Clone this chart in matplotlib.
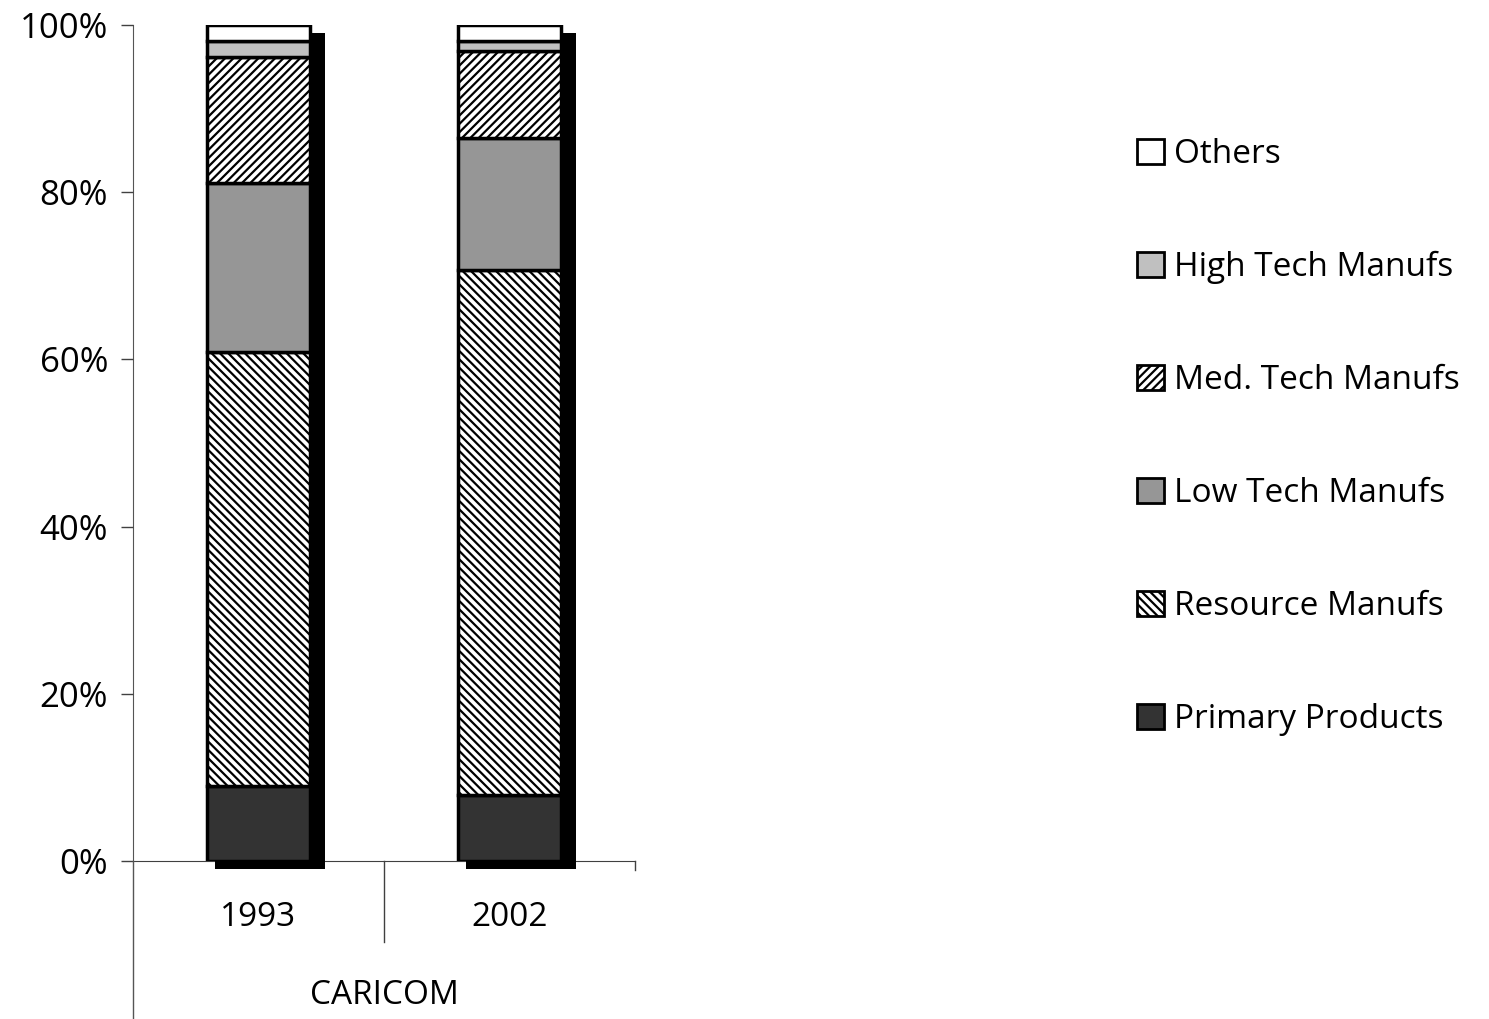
import matplotlib.pyplot as plt
from matplotlib.patches import Rectangle
from matplotlib.lines import Line2D
import matplotlib.transforms as mtransforms

plt.rcParams['font.family'] = ['Open Sans', 'DejaVu Sans']
plt.rcParams['hatch.linewidth'] = 1.6

# datos (% del total)
years = ["1993", "2002"]
group = "CARICOM"
categories = ["Primary Products", "Resource Manufs", "Low Tech Manufs",
              "Med. Tech Manufs", "High Tech Manufs", "Others"]
primary = [9.0, 7.9]
resource = [51.9, 62.8]
low_tech = [20.2, 15.8]
med_tech = [15.1, 10.4]
high_tech = [1.9, 1.2]
others = [1.9, 1.9]
series = [primary, resource, low_tech, med_tech, high_tech, others]

colors = ["#333333", "white", "#969696", "white", "#c0c0c0", "white"]
hatches = [None, "\\\\\\\\", None, "////", None, None]

fig = plt.figure(figsize=(14.89, 10.19), dpi=100)
ax = fig.add_axes([133 / 1489, 158 / 1019, 502 / 1489, 836 / 1019])

x = [0.5, 1.5]
width = 0.41
px = 2.0 / 502  # un pixel en unidades x

# sombra negra (efecto 3D)
for xi in x:
    ax.add_patch(Rectangle((xi - width / 2 + 8 * px, -0.9), width + 7 * px, 100,
                           facecolor="black", edgecolor="none", zorder=2,
                           clip_on=False))

bottom = [0.0, 0.0]
handles = []
for vals, name, c, h in zip(series, categories, colors, hatches):
    bars = ax.bar(x, vals, width, bottom=bottom, color=c, hatch=h,
                  edgecolor="black", linewidth=2.5, zorder=3, label=name)
    handles.append(bars)
    bottom = [b + v for b, v in zip(bottom, vals)]

ax.set_xlim(0, 2)
ax.set_ylim(0, 100)
ax.set_yticks([0, 20, 40, 60, 80, 100])
ax.set_yticklabels(["0%", "20%", "40%", "60%", "80%", "100%"], fontsize=25)
ax.tick_params(axis="y", direction="out", length=9, width=1, pad=9, color="#404040")
ax.set_xticks(x)
ax.set_xticklabels(years, fontsize=24)
ax.tick_params(axis="x", length=0, pad=29)

for s in ["top", "right"]:
    ax.spines[s].set_visible(False)
ax.spines["left"].set_color("#555555")
ax.spines["bottom"].set_color("#404040")
ax.spines["left"].set_zorder(1)
ax.spines["bottom"].set_zorder(1)

# separadores del eje de categorias
trans = mtransforms.blended_transform_factory(ax.transData, fig.transFigure)
y0 = 158 / 1019
ax.add_line(Line2D([1.0, 1.0], [y0, y0 - 81 / 1019], transform=trans,
                   color="#404040", lw=1, clip_on=False))
ax.add_line(Line2D([2.0, 2.0], [y0, y0 - 9 / 1019], transform=trans,
                   color="#404040", lw=1, clip_on=False))
ax.add_line(Line2D([0.0, 0.0], [y0, 0], transform=trans,
                   color="#555555", lw=1, clip_on=False))

fig.text((133 + 502 / 2) / 1489, 1 - 995 / 1019, group, fontsize=24,
         ha="center", va="center")

leg = fig.legend(handles[::-1], categories[::-1], loc="center left",
                 bbox_to_anchor=(1137 / 1489, 1 - 437 / 1019), frameon=False,
                 fontsize=24, handlelength=0.8, handleheight=0.8,
                 handletextpad=0.3, labelspacing=2.4, borderpad=0,
                 borderaxespad=0)
for p in leg.get_patches():
    p.set_linewidth(2)

plt.savefig("out.png", dpi=100)
